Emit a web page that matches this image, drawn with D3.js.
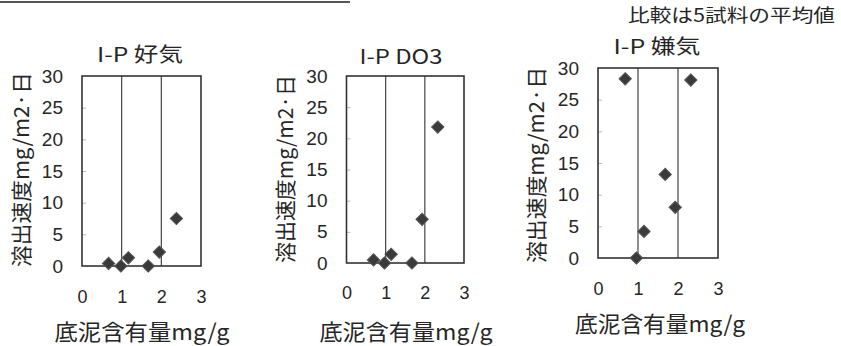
<!DOCTYPE html>
<html><head><meta charset="utf-8">
<script src="https://cdn.jsdelivr.net/npm/d3@7"></script>
<style>
html,body{margin:0;padding:0;background:#fff;}
svg{display:block;}
text{fill:#262626;}
</style></head>
<body>
<svg id="c" width="841" height="346"></svg>
<script>
// ---- data ----
const panelTitles = ["I-P 好気", "I-P DO3", "I-P 嫌気"];
const xTicks = [0, 1, 2, 3];
const yTicks = [0, 5, 10, 15, 20, 25, 30];
const aerobicX = [0.67, 0.98, 1.17, 1.67, 1.95, 2.38];
const aerobicY = [0.4, 0.0, 1.3, 0.0, 2.2, 7.5];
const do3X = [0.69, 0.97, 1.14, 1.67, 1.93, 2.33];
const do3Y = [0.5, 0.0, 1.4, 0.0, 7.0, 21.8];
const anaerobicX = [0.68, 0.96, 1.15, 1.68, 1.93, 2.32];
const anaerobicY = [28.3, 0.0, 4.2, 13.2, 8.0, 28.1];
const xTitle = "底泥含有量mg/g";
const yTitle = "溶出速度mg/m2·日";
const note = "比較は5試料の平均値";

// ---- layout ----
const CJK = "\"Noto Sans CJK JP\",\"Noto Sans\",sans-serif";
const NUM = "\"Liberation Sans\",Arial,sans-serif";
const panels = [
  {title: panelTitles[0], xs: aerobicX, ys: aerobicY, l: 82, r: 201, t: 76, b: 266,
   titleX: 140, titleY: 53, titleLen: 86, yTitleX: 20, yTitleY: 169.5, yLen: 195, xTitleX: 142, xTitleY: 330, xLen: 175, xPad: 24},
  {title: panelTitles[1], xs: do3X, ys: do3Y, l: 346.5, r: 464, t: 76, b: 263,
   titleX: 401, titleY: 55, titleLen: 83, yTitleX: 284, yTitleY: 169, yLen: 188, xTitleX: 406, xTitleY: 330, xLen: 173, xPad: 23},
  {title: panelTitles[2], xs: anaerobicX, ys: anaerobicY, l: 598, r: 718, t: 68, b: 258,
   titleX: 657, titleY: 45, titleLen: 87, yTitleX: 535, yTitleY: 165, yLen: 196, xTitleX: 660, xTitleY: 322, xLen: 170, xPad: 24}
];

const svg = d3.select("#c");

// scan border line at top
svg.append("line").attr("x1", 0).attr("x2", 350).attr("y1", 2).attr("y2", 2)
  .attr("stroke", "#555").attr("stroke-width", 2);

// note
svg.append("text").attr("x", 628).attr("y", 14).attr("dominant-baseline", "central")
  .style("font-family", CJK).style("font-size", "18px")
  .attr("textLength", 207).attr("lengthAdjust", "spacingAndGlyphs").text(note);

panels.forEach(p => {
  const x = d3.scaleLinear().domain([0, 3]).range([p.l, p.r]);
  const y = d3.scaleLinear().domain([0, 30]).range([p.b, p.t]);
  const g = svg.append("g");

  // inner minor ticks
  const inner = g.append("g").attr("transform", `translate(${p.l},0)`)
    .call(d3.axisRight(y).tickValues(yTicks.slice(1, -1)).tickSize(4).tickFormat(""));
  inner.select(".domain").remove();
  inner.selectAll("line").attr("stroke", "#bbb");

  // gridlines at 1 and 2
  g.selectAll(".grid").data(xTicks.slice(1, -1)).join("line")
    .attr("x1", d => x(d)).attr("x2", d => x(d)).attr("y1", p.t).attr("y2", p.b)
    .attr("stroke", "#444").attr("stroke-width", 1.2);

  // frame
  g.append("rect").attr("x", p.l).attr("y", p.t).attr("width", p.r - p.l).attr("height", p.b - p.t)
    .attr("fill", "none").attr("stroke", "#333").attr("stroke-width", 1.6);

  // y axis labels
  const ya = g.append("g").attr("transform", `translate(${p.l},0)`)
    .call(d3.axisLeft(y).tickValues(yTicks).tickSize(0).tickPadding(19).tickFormat(d3.format("d")));
  ya.select(".domain").remove();
  ya.selectAll("text").style("font-size", "19px").style("font-family", NUM).attr("fill", "#262626");

  // x axis labels
  const xa = g.append("g").attr("transform", `translate(0,${p.b})`)
    .call(d3.axisBottom(x).tickValues(xTicks).tickSize(0).tickPadding(p.xPad).tickFormat(d3.format("d")));
  xa.select(".domain").remove();
  xa.selectAll("text").style("font-size", "18px").style("font-family", NUM).attr("fill", "#262626");

  // points
  const sym = d3.symbol().type(d3.symbolSquare).size(76);
  g.selectAll(".pt").data(p.xs.map((v, i) => [v, p.ys[i]])).join("path")
    .attr("d", sym)
    .attr("transform", d => `translate(${x(d[0])},${y(d[1])}) rotate(45)`)
    .attr("fill", "#3a3a3a").attr("stroke", "#555").attr("stroke-width", 1);

  // title
  g.append("text").attr("x", p.titleX).attr("y", p.titleY).attr("text-anchor", "middle")
    .attr("dominant-baseline", "central").style("font-family", CJK).style("font-size", "20px")
    .attr("textLength", p.titleLen).attr("lengthAdjust", "spacingAndGlyphs").text(p.title);

  // y title
  g.append("text").attr("transform", `translate(${p.yTitleX},${p.yTitleY}) rotate(-90)`)
    .attr("text-anchor", "middle").attr("dominant-baseline", "central")
    .style("font-family", CJK).style("font-size", "21px")
    .attr("textLength", p.yLen).attr("lengthAdjust", "spacingAndGlyphs").text(yTitle);

  // x title
  g.append("text").attr("x", p.xTitleX).attr("y", p.xTitleY).attr("text-anchor", "middle")
    .attr("dominant-baseline", "central").style("font-family", CJK).style("font-size", "22px")
    .attr("textLength", p.xLen).attr("lengthAdjust", "spacingAndGlyphs").text(xTitle);
});
</script>
</body></html>
